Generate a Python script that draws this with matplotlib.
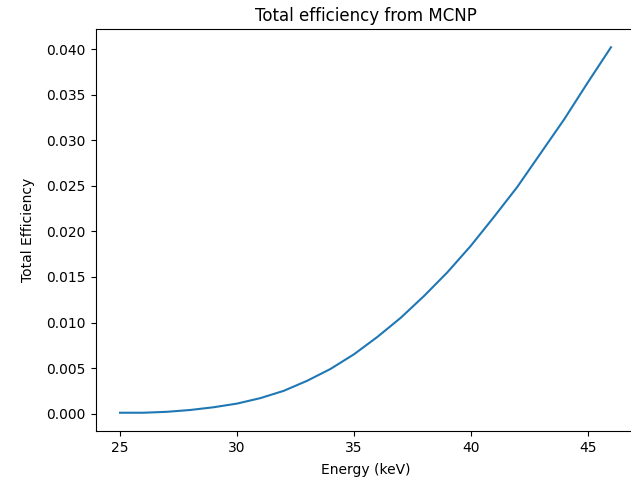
import numpy as np
import matplotlib
matplotlib.use("Agg")
import matplotlib.pyplot as plt

# energy grid (keV) and total efficiency
energy = [25, 26, 27, 28, 29, 30, 31, 32, 33, 34, 35,
          36, 37, 38, 39, 40, 41, 42, 43, 44, 45, 46]
efficiency = [0.0001, 0.0001, 0.0002, 0.0004, 0.0007, 0.0011, 0.0017, 0.0025,
              0.0036, 0.0049, 0.0065, 0.0084, 0.0105, 0.0129, 0.0155, 0.0184,
              0.0216, 0.0249, 0.0286, 0.0323, 0.0363, 0.0402]

fig = plt.figure(figsize=(6.31, 4.79), dpi=100)
# axes runs off the right edge, like the cropped original
ax = fig.add_axes([95.5/631, 48/479, 540/631, 402/479])
ax.plot(energy, efficiency, color='#1f77b4', lw=1.5)
ax.set_yticks(np.arange(0, 0.0401, 0.005))
ax.set_xticks([25, 30, 35, 40, 45])
ax.set_title('Total efficiency from MCNP', fontsize=12)
ax.set_xlabel('Energy (keV)', labelpad=6)
ax.set_ylabel('Total Efficiency', labelpad=8)

fig.savefig('out.png', dpi=100)
